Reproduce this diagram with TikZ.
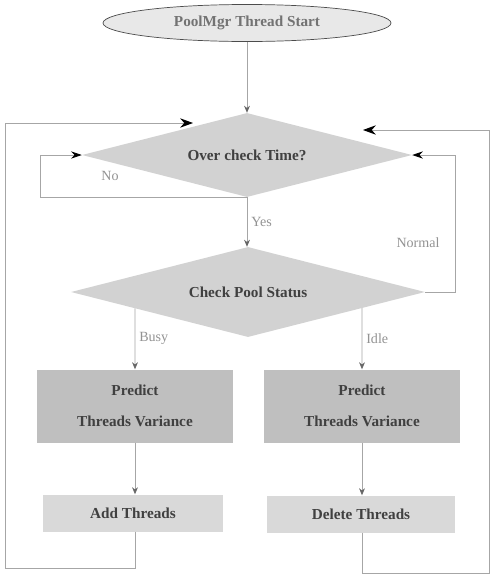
\documentclass[tikz,border=0pt]{standalone}
\usepackage{fontspec}
\setmainfont{Liberation Serif}
\usetikzlibrary{shapes.geometric,arrows.meta}
\begin{document}
\begin{tikzpicture}[x=0.03cm,y=-0.03cm,
  conn/.style={draw=gray!70, line width=0.7pt},
  smallarrow/.style={conn,-{Stealth[length=6pt,width=5pt,color=gray!80!black]}},
  bigarrow/.style={conn,-{Stealth[length=11pt,width=8pt,color=black]}},
  midarrow/.style={conn,-{Stealth[length=9pt,width=6pt,color=black]}},
  boxtext/.style={font=\fontsize{13pt}{15pt}\selectfont\bfseries, text=black!75},
  decision/.style={diamond, aspect=3.9, fill=gray!35, inner sep=0pt, boxtext},
  procbox/.style={rectangle, inner sep=0pt, boxtext},
  lbl/.style={font=\fontsize{12pt}{14pt}\selectfont, text=gray!85}
]
\fill[white] (0,0) rectangle (491,581);
\useasboundingbox (0,0) rectangle (491,581);

% nodes
\node[ellipse, draw=black!70, line width=0.6pt, fill=gray!18, minimum width=8.64cm, minimum height=1.11cm, inner sep=0pt, boxtext, text=black!55] (start) at (247,23) {PoolMgr Thread Start};
\node[decision, minimum width=9.9cm, minimum height=2.52cm] (d1) at (247,155) {Over check Time?};
\node[decision, minimum width=10.62cm, minimum height=2.7cm] (d2) at (248,292) {Check Pool Status};
\node[procbox, fill=gray!50, minimum width=5.88cm, minimum height=2.19cm, align=center] (p1) at (135,406) {Predict\\[12pt]Threads Variance};
\node[procbox, fill=gray!50, minimum width=5.85cm, minimum height=2.19cm, align=center] (p2) at (362,406) {Predict\\[12pt]Threads Variance};
\node[procbox, fill=gray!30, minimum width=5.4cm, minimum height=1.11cm] (add) at (133,513) {Add Threads};
\node[procbox, fill=gray!30, minimum width=5.61cm, minimum height=1.11cm] (del) at (361,514) {Delete Threads};

% helper coordinates
\coordinate (nl) at (40,0);
\coordinate (nr) at (455,0);
\coordinate (bl) at (5,568);
\coordinate (br) at (489,573);
\coordinate (inL) at (193,123);
\coordinate (inR) at (363,130);

% connectors
\draw[smallarrow] (start.south) -- (d1.north);
\draw[smallarrow] (d1.south) -- node[lbl, right, pos=0.5] {Yes} (d1.south |- d2.north);
\draw[midarrow] (d1.south) -- (d1.south -| nl) -- (d1.west -| nl) -- (d1.west);
\node[lbl] (nolbl) at (110,176) {No};
\draw[midarrow] (d2.east) -- (d2.east -| nr) -- (d1.east -| nr) -- (d1.east);
\node[lbl] (normlbl) at (418,243) {Normal};
\draw[smallarrow] (intersection of d2.west--d2.south and p1.north--p1.center) -- node[lbl, right, pos=0.5] {Busy} (p1.north);
\draw[smallarrow] (intersection of d2.east--d2.south and p2.north--p2.center) -- node[lbl, right, pos=0.5] {Idle} (p2.north);
\draw[smallarrow] (p1.south) -- (p1.south |- add.north);
\draw[smallarrow] (p2.south) -- (p2.south |- del.north);
\draw[bigarrow] (p1.south |- add.south) |- (bl) |- (inL);
\draw[bigarrow] (p2.south |- del.south) |- (br) |- (inR);
\end{tikzpicture}
\end{document}
